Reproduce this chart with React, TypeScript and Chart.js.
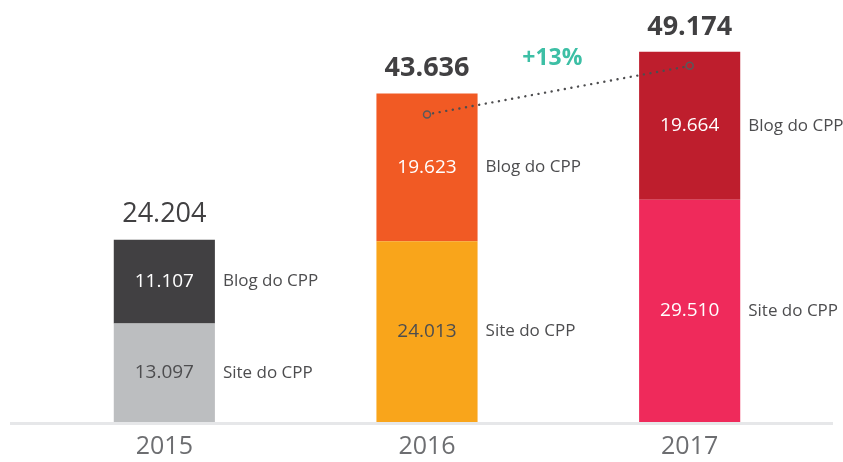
import React, { useEffect, useRef } from "react";
import { Chart, registerables } from "chart.js";

Chart.register(...registerables);

const years = ["2015", "2016", "2017"];
const siteValues = [13097, 24013, 29510];
const blogValues = [11107, 19623, 19664];
const seriesNames = ["Site do CPP", "Blog do CPP"];

const siteColors = ["#bcbec0", "#f9a51b", "#ef2a5b"];
const blogColors = ["#414042", "#f15a24", "#be1e2d"];
const siteTextColors = ["#4d4d4f", "#4d4d4f", "#ffffff"];
const blogTextColors = ["#ffffff", "#ffffff", "#ffffff"];
const totalBold = [false, true, true];

const FONT = "'Open Sans', 'DejaVu Sans', sans-serif";
const fmt = (v: number) => v.toLocaleString("pt-BR");

const overlayPlugin = {
  id: "overlay",
  beforeDatasetsDraw(chart: any) {
    const { ctx, chartArea } = chart;
    ctx.save();
    ctx.strokeStyle = "#e6e7e9";
    ctx.lineWidth = 3;
    ctx.beginPath();
    ctx.moveTo(10, chartArea.bottom + 1.5);
    ctx.lineTo(833, chartArea.bottom + 1.5);
    ctx.stroke();
    ctx.restore();
  },
  afterDatasetsDraw(chart: any) {
    const { ctx } = chart;
    const siteMeta = chart.getDatasetMeta(0);
    const blogMeta = chart.getDatasetMeta(1);
    ctx.save();
    ctx.textAlign = "center";
    ctx.textBaseline = "middle";
    [siteMeta, blogMeta].forEach((meta: any, di: number) => {
      const colors = di === 0 ? siteTextColors : blogTextColors;
      const vals = di === 0 ? siteValues : blogValues;
      meta.data.forEach((bar: any, i: number) => {
        const cy = (bar.y + bar.base) / 2;
        ctx.font = `19px ${FONT}`;
        ctx.fillStyle = colors[i];
        ctx.textAlign = "center";
        ctx.fillText(fmt(vals[i]), bar.x, cy);
        ctx.font = `17px ${FONT}`;
        ctx.fillStyle = "#4d4d4f";
        ctx.textAlign = "left";
        ctx.fillText(seriesNames[di], bar.x + bar.width / 2 + 8, cy);
      });
    });
    const totals = years.map((_, i) => siteValues[i] + blogValues[i]);
    blogMeta.data.forEach((bar: any, i: number) => {
      ctx.textAlign = "center";
      ctx.fillStyle = "#414042";
      ctx.font = `${totalBold[i] ? "bold " : ""}27px ${FONT}`;
      ctx.fillText(fmt(totals[i]), bar.x, bar.y - 25);
    });
    const a = blogMeta.data[1];
    const b = blogMeta.data[2];
    const ay = a.y + 21;
    const by = b.y + 14;
    ctx.strokeStyle = "#4d4d4f";
    ctx.lineWidth = 2.4;
    ctx.lineCap = "round";
    ctx.setLineDash([0.1, 6.6]);
    ctx.beginPath();
    ctx.moveTo(a.x + 6, ay - 1.2);
    ctx.lineTo(b.x - 6, by + 1.2);
    ctx.stroke();
    ctx.setLineDash([]);
    ctx.lineWidth = 1.5;
    ctx.strokeStyle = "#58595b";
    [
      [a.x, ay],
      [b.x, by],
    ].forEach(([x, y]) => {
      ctx.beginPath();
      ctx.arc(x, y, 3.5, 0, Math.PI * 2);
      ctx.stroke();
    });
    const growth = Math.round((totals[2] / totals[1] - 1) * 100);
    ctx.fillStyle = "#3dbfa5";
    ctx.font = `bold 23px ${FONT}`;
    ctx.textAlign = "center";
    ctx.fillText(`+${growth}%`, (a.x + b.x) / 2 - 6, (ay + by) / 2 - 32);
    ctx.restore();
  },
};

export default function App() {
  const ref = useRef<HTMLCanvasElement>(null);
  useEffect(() => {
    document.body.style.margin = "0";
    const chart = new Chart(ref.current!, {
      type: "bar",
      data: {
        labels: years,
        datasets: [
          {
            label: seriesNames[0],
            data: siteValues,
            backgroundColor: siteColors,
            borderWidth: 0,
          },
          {
            label: seriesNames[1],
            data: blogValues,
            backgroundColor: blogColors,
            borderWidth: 0,
          },
        ],
      },
      options: {
        animation: false,
        responsive: false,
        maintainAspectRatio: false,
        devicePixelRatio: 1,
        layout: { padding: { top: 8, left: 33, right: 22, bottom: -10 } },
        datasets: { bar: { barPercentage: 0.385, categoryPercentage: 1 } },
        plugins: {
          legend: { display: false },
          tooltip: { enabled: false },
        },
        scales: {
          x: {
            stacked: true,
            grid: { display: false, drawTicks: false },
            border: { display: false },
            ticks: {
              padding: 10,
              color: "#6d6e71",
              font: { family: FONT, size: 25 },
            },
          },
          y: {
            stacked: true,
            display: false,
            min: 0,
            max: 55000,
          },
        },
      },
      plugins: [overlayPlugin],
    });
    return () => chart.destroy();
  }, []);
  return (
    <div style={{ width: 843, height: 462 }}>
      <canvas ref={ref} width={843} height={462} style={{ width: 843, height: 462 }} />
    </div>
  );
}
